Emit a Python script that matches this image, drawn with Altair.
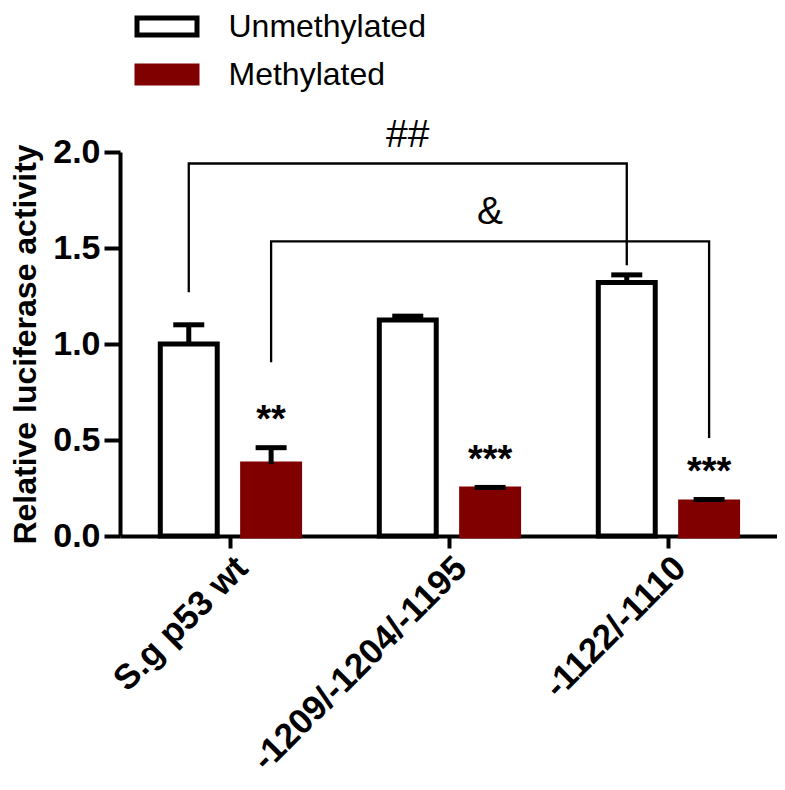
import json
import altair as alt
import pandas as pd

# ---- data ----
groups = ["S.g p53 wt", "-1209/-1204/-1195", "-1122/-1110"]
series = ["Unmethylated", "Methylated"]
unmeth = [1.00, 1.125, 1.32]
unmeth_err = [0.10, 0.02, 0.04]
meth = [0.375, 0.245, 0.177]
meth_err = [0.085, 0.008, 0.013]
stars = ["**", "***", "***"]

# significance brackets
br_labels = ["##", "&"]
br_series = ["Unmethylated", "Methylated"]
br_left = [0, 0]
br_right = [2, 2]
br_left_y = [1.27, 0.905]
br_top = [1.94, 1.535]
br_right_y = [1.41, 0.51]

OFF = {"Unmethylated": -0.186, "Methylated": 0.19}
HALF = 0.13
FONT = "Liberation Sans, Arial, sans-serif"
NARROW = "Liberation Sans Narrow, Arial Narrow, Liberation Sans, sans-serif"

rows = []
for i, g in enumerate(groups):
    for s, v, e in (("Unmethylated", unmeth[i], unmeth_err[i]), ("Methylated", meth[i], meth_err[i])):
        xc = i + OFF[s]
        rows.append({"group": g, "series": s, "value": v, "hi": v + e,
                     "xc": xc, "x0": xc - HALF, "x1": xc + HALF})
bars = pd.DataFrame(rows)

star_df = pd.DataFrame({
    "xc": [i + OFF["Methylated"] for i in range(3)],
    "y": [m + e + 0.14 for m, e in zip(meth, meth_err)],
    "label": stars,
})

brow = []
blab = []
for k in range(len(br_labels)):
    xl = br_left[k] + OFF[br_series[k]]
    xr = br_right[k] + OFF[br_series[k]]
    pts = [(xl, br_left_y[k]), (xl, br_top[k]), (xr, br_top[k]), (xr, br_right_y[k])]
    for o, (xx, yy) in enumerate(pts):
        brow.append({"b": br_labels[k], "o": o, "x": xx, "y": yy})
    blab.append({"label": br_labels[k], "x": (xl + xr) / 2, "y": br_top[k] + 0.15})
br_df = pd.DataFrame(brow)
bl_df = pd.DataFrame(blab)

xscale = alt.Scale(domain=[-0.5, 2.5], nice=False, zero=False)
yscale = alt.Scale(domain=[0, 2], nice=False)

xaxis = alt.Axis(values=[0, 1, 2], labelExpr=f"{json.dumps(groups)}[datum.value]",
                 title=None, grid=False, labelAngle=-45, labelAlign="right",
                 labelBaseline="top", labelFont=FONT, labelFontSize=35,
                 labelFontWeight="bold", labelColor="black", tickSize=12,
                 tickWidth=4, tickColor="black", domainColor="black",
                 domainWidth=4, labelPadding=2, labelOverlap=False, labelBound=False,
                 labelLimit=0)
yaxis = alt.Axis(values=[0, 0.5, 1.0, 1.5, 2.0], format=".1f", title="Relative luciferase activity",
                 grid=False, labelFont=FONT, labelFontSize=34, labelFontWeight="bold",
                 labelColor="black", titleFont=FONT, titleFontSize=32, titleFontWeight="bold",
                 titleColor="black", tickSize=16, tickWidth=4, tickColor="black",
                 domainColor="black", domainWidth=4, labelPadding=4, titlePadding=10,
                 titleLimit=0)

leg = alt.Legend(title=None, orient="none", legendX=24.5, legendY=-148,
                 symbolType="M-1.5,-0.425H1.5V0.425H-1.5Z", symbolSize=1600,
                 symbolStrokeWidth=5, labelFont=NARROW,
                 labelFontSize=32, labelColor="black", labelOffset=39, rowPadding=7,
                 padding=0, labelLimit=0)

bar_layer = alt.Chart(bars).mark_bar(strokeWidth=5, strokeJoin="miter").encode(
    x=alt.X("x0:Q", scale=xscale, axis=xaxis),
    x2="x1:Q",
    y=alt.Y("value:Q", scale=yscale, axis=yaxis),
    y2=alt.datum(0),
    fill=alt.Fill("series:N", scale=alt.Scale(domain=series, range=["white", "#800000"]), legend=leg),
    stroke=alt.Stroke("series:N", scale=alt.Scale(domain=series, range=["black", "#800000"]), legend=leg),
)

err_layer = alt.Chart(bars).mark_rule(strokeWidth=5, color="black").encode(
    x=alt.X("xc:Q", scale=xscale),
    y=alt.Y("value:Q", scale=yscale),
    y2="hi:Q",
)
cap_layer = alt.Chart(bars).mark_tick(orient="horizontal", size=31, thickness=5,
                                      color="black", opacity=1).encode(
    x=alt.X("xc:Q", scale=xscale),
    y=alt.Y("hi:Q", scale=yscale),
)

br_layer = alt.Chart(br_df).mark_line(color="black", strokeWidth=2.3, strokeJoin="miter").encode(
    x=alt.X("x:Q", scale=xscale),
    y=alt.Y("y:Q", scale=yscale),
    detail="b:N",
    order="o:Q",
)
bl_layer = alt.Chart(bl_df).mark_text(font=NARROW, fontSize=39, color="black",
                                      baseline="middle", align="center").encode(
    x=alt.X("x:Q", scale=xscale),
    y=alt.Y("y:Q", scale=yscale),
    text="label:N",
)
star_layer = alt.Chart(star_df).mark_text(font=FONT, fontSize=38, fontWeight="bold", color="black",
                                          baseline="middle", align="center").encode(
    x=alt.X("xc:Q", scale=xscale),
    y=alt.Y("y:Q", scale=yscale),
    text="label:N",
)

chart = alt.layer(br_layer, bar_layer, err_layer, cap_layer, bl_layer, star_layer).properties(
    width=657, height=384,
    autosize=alt.AutoSizeParams(type="none"),
    padding={"left": 112, "top": 144, "right": 0, "bottom": 244},
    background="white",
).configure_view(stroke=None)

chart.save("out.html", embed_options={"renderer": "svg", "actions": False})
